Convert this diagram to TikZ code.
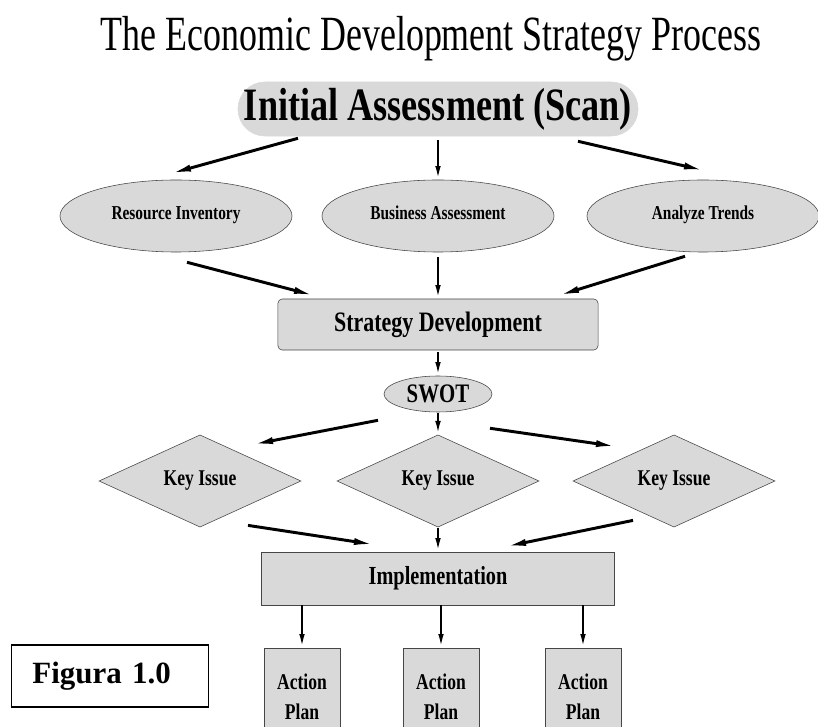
\documentclass[tikz,border=0pt]{standalone}
\usepackage{fontspec}
\setmainfont{Liberation Serif}
\newfontfamily\titlefont[FakeStretch=0.73]{Liberation Serif}
\newfontfamily\narrowfont[FakeStretch=0.78]{Liberation Serif}
\usetikzlibrary{shapes.geometric,arrows.meta}
\definecolor{boxgray}{RGB}{217,217,217}
\definecolor{linegray}{RGB}{70,70,70}

\begin{document}
\begin{tikzpicture}[x=0.025cm, y=-0.025cm,
  box/.style={draw=linegray, fill=boxgray, inner sep=0pt, font=\narrowfont\bfseries},
  oval/.style={box, ellipse, minimum width=5.8cm, minimum height=1.8cm, text height=0.7em, text depth=0.2em,
    font=\narrowfont\bfseries\fontsize{14}{16}\selectfont},
  issue/.style={box, diamond, minimum width=5.05cm, minimum height=1.8cm,
    font=\narrowfont\bfseries\fontsize{16}{18}\selectfont},
  plan/.style={box, minimum width=1.9cm, minimum height=2.45cm, align=center,
    font=\narrowfont\bfseries\fontsize{16}{21}\selectfont},
  arr/.style={line width=2.1pt, -{Latex[length=15pt,width=5pt]}},
  down/.style={line width=1.4pt, -{Latex[length=9pt,width=4pt]}}]
  \useasboundingbox (0,0) rectangle (818,727);
  \clip (0,0) rectangle (818,727);

  \node[font=\titlefont\fontsize{35}{40}\selectfont, anchor=base] (title) at (431,51)
    {The Economic Development Strategy Process};

  %A: Scan and its three parts
  \node[box, draw=boxgray, rounded corners=0.675cm, minimum width=10cm, minimum height=1.35cm,
    font=\narrowfont\bfseries\fontsize{33}{38}\selectfont] (init) at (438,109) {Initial Assessment (Scan)};
  \node[oval] (res) at (176,216) {Resource Inventory};
  \node[oval] (bus) at (438,216) {Business Assessment};
  \node[oval] (trend) at (703,216) {Analyze Trends};

  \node[box, rounded corners=3pt, minimum width=8cm, minimum height=1.275cm,
    font=\narrowfont\bfseries\fontsize{20}{24}\selectfont] (strat) at (438,324.5) {Strategy Development};
  \node[box, ellipse, minimum width=2.7cm, minimum height=0.9cm,
    font=\narrowfont\bfseries\fontsize{19}{22}\selectfont] (swot) at (438,394) {SWOT};

  %A: Issues
  \node[issue] (key1) at (200,481) {Key Issue};
  \node[issue] (key2) at (438,481) {Key Issue};
  \node[issue] (key3) at (674,481) {Key Issue};

  \node[box, minimum width=8.825cm, minimum height=1.325cm,
    font=\narrowfont\bfseries\fontsize{18.5}{22}\selectfont] (impl) at (438,578.5) {Implementation};
  \foreach \i/\x in {1/302,2/441,3/583}
    \node[plan] (act\i) at (\x,697) {Action\\Plan};

  \node[draw, line width=1.2pt, text width=3.875cm, inner xsep=0.525cm, minimum height=1.55cm,
    align=left, font=\bfseries\fontsize{22}{26}\selectfont] (fig) at (110,676) {Figura 1.0};

  %A: Arrows
  \draw[arr] ([shift={(-140,2)}]init.south) -- ([shift={(-6,-6)}]res.north);
  \draw[down] ([shift={(0,4)}]init.south) -- ([shift={(0,-1)}]bus.north);
  \draw[arr] ([shift={(140,5)}]init.south) -- ([shift={(2,-9)}]trend.north);

  \draw[arr] ([shift={(11,10)}]res.south) -- ([shift={(-123,-3)}]strat.north);
  \draw[down] ([shift={(0,5)}]bus.south) -- ([shift={(0,-1)}]strat.north);
  \draw[arr] ([shift={(-18,4)}]trend.south) -- ([shift={(120,-3)}]strat.north);

  \draw[down] ([shift={(0,2)}]strat.south) -- ([shift={(0,-1)}]swot.north);

  \draw[arr] ([shift={(-60,8)}]swot.south) -- ([shift={(52,10)}]key1.north);
  \draw[down] ([shift={(0,1)}]swot.south) -- ([shift={(0,-1)}]key2.north);
  \draw[arr] ([shift={(52,16)}]swot.south) -- ([shift={(-57,12)}]key3.north);

  \draw[arr] ([shift={(48,-2)}]key1.south) -- ([shift={(-63,-7)}]impl.north);
  \draw[down] ([shift={(0,1)}]key2.south) -- ([shift={(0,-1)}]impl.north);
  \draw[arr] ([shift={(-41,-7)}]key3.south) -- ([shift={(67,-5)}]impl.north);

  \foreach \i in {1,2,3}
    \draw[down] (impl.south -| act\i) -- ([shift={(0,-1)}]act\i.north);
\end{tikzpicture}
\end{document}
